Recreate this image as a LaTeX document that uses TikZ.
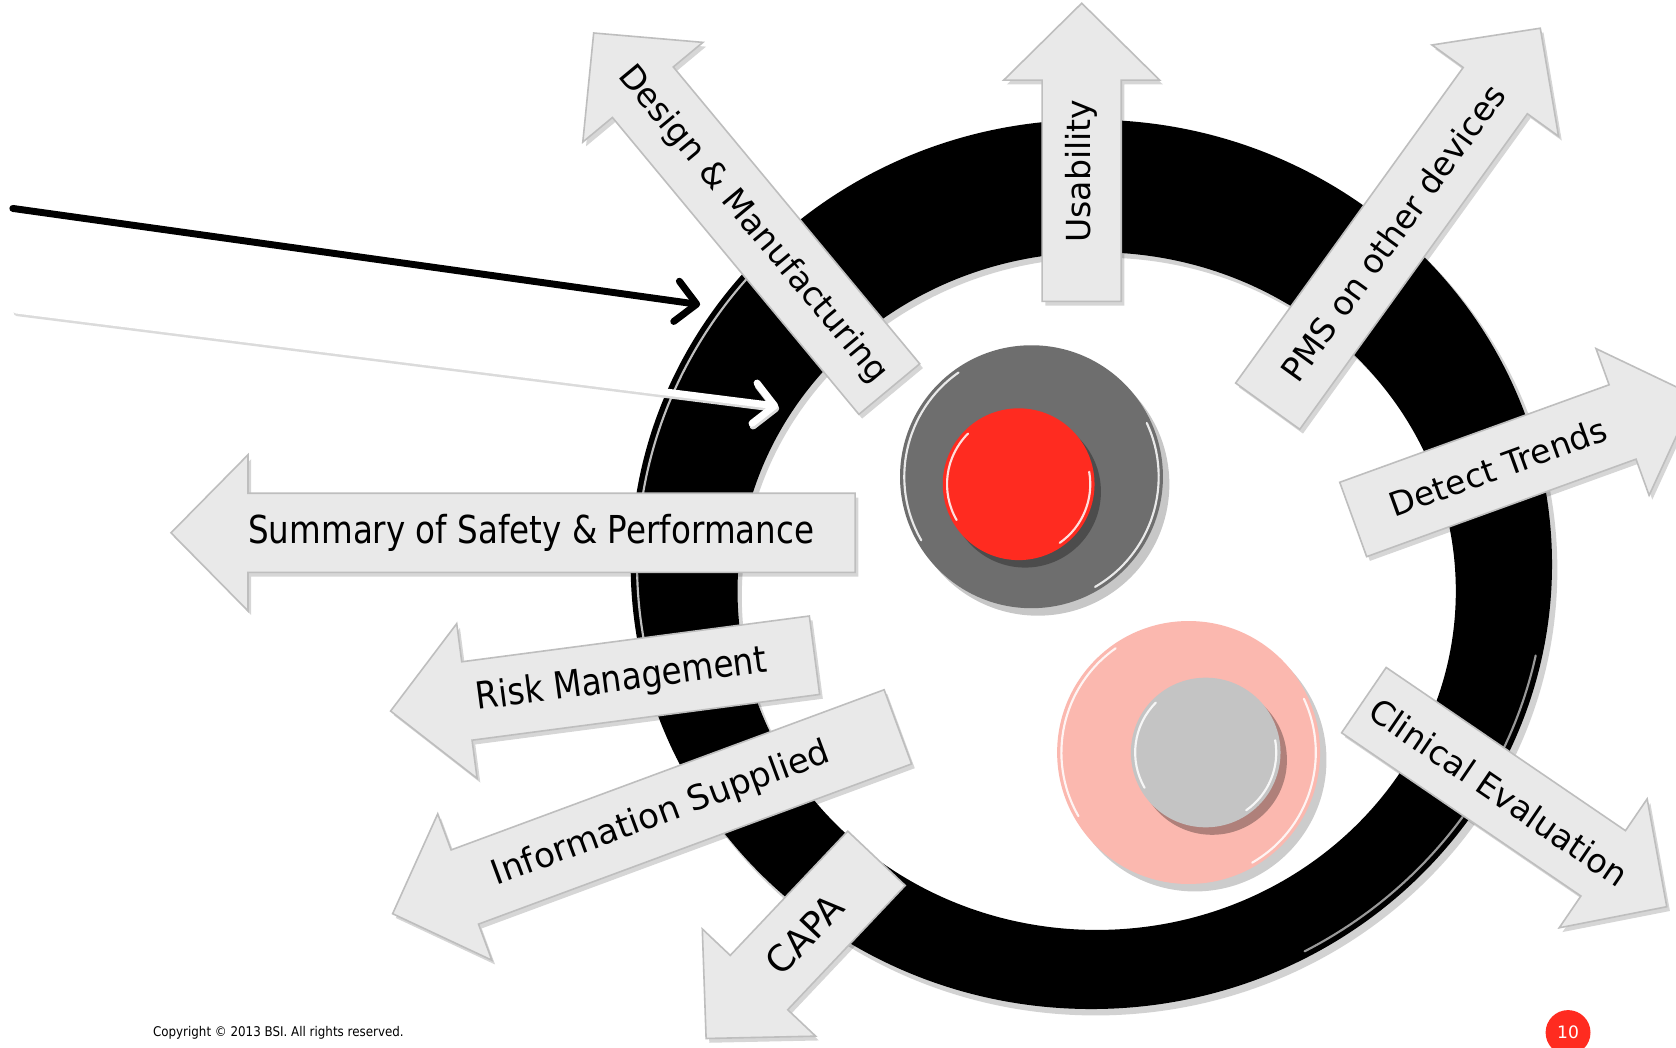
\documentclass[tikz,border=0pt]{standalone}
\usepackage{fontspec}
\setmainfont{DejaVu Sans}
\usetikzlibrary{arrows.meta}
\definecolor{arrfill}{RGB}{233,233,233}
\definecolor{arredge}{RGB}{190,190,190}
\definecolor{discgray}{RGB}{110,110,110}
\definecolor{discred}{RGB}{255,43,32}
\definecolor{discpink}{RGB}{251,184,175}
\definecolor{disclight}{RGB}{196,196,196}
\tikzset{
  arrowbox/.style={fill=arrfill, draw=arredge, line width=1.5pt, line join=miter},
  arrowshadow/.style={fill=black, opacity=0.16},
  arrowlabel/.style={transform shape, inner sep=0pt, text=black},
  gloss/.style={white, line width=2.5pt, opacity=0.85, line cap=round},
  pointer/.style={line width=6.5pt, line cap=round,
    -{Straight Barb[length=19pt, width=38pt, line cap=round, line join=round]}},
}
\newcommand{\arrpoly}[1]{(0,-37) -- (#1,-37) -- (#1,-73) -- ({#1+72},0) -- (#1,73) -- (#1,37) -- (0,37) -- cycle}
% #1 name, #2 x, #3 y, #4 angle, #5 body length, #6 label position, #7 label rotation, #8 label
\newcommand{\blockarr}[8]{%
  \begin{scope}[shift={({#2+3},{#3+4})}, rotate=#4]
    \fill[arrowshadow] \arrpoly{#5};
  \end{scope}
  \begin{scope}[shift={(#2,#3)}, rotate=#4]
    \path[arrowbox] \arrpoly{#5};
    \node[arrowlabel, rotate=#7] (#1) at (#6,0) {#8};
  \end{scope}}
\begin{document}
\begin{tikzpicture}[x=1pt, y=-1pt]
\clip (0,0) rectangle (1568,980);
\fill[white] (0,0) rectangle (1568,980);

% black ring
\fill[black!35, opacity=0.5, even odd rule] (1025,533) ellipse [x radius=432, y radius=417] (1030,558) ellipse [x radius=336, y radius=317];
\fill[black, even odd rule] (1021,528) ellipse [x radius=431, y radius=416] (1026,553) ellipse [x radius=336, y radius=317];
\draw[gloss, line width=2pt, opacity=0.75] (1021,528) ++(165:425 and 410) arc[start angle=165, end angle=228, x radius=425, y radius=410];
\draw[gloss, line width=2pt, opacity=0.6] (1021,528) ++(12:425 and 410) arc[start angle=12, end angle=62, x radius=425, y radius=410];

% gray / red disc
\fill[black, opacity=0.22] (971,453) circle [radius=123];
\fill[discgray] (965,446) circle [radius=123];
\draw[gloss, line width=2pt] (965,446) ++(150:119) arc[start angle=150, end angle=235, radius=119];
\draw[gloss, line width=2pt] (965,446) ++(-25:119) arc[start angle=-25, end angle=60, radius=119];
\fill[black, opacity=0.3] (959,460) circle [radius=71];
\fill[discred] (953,453) circle [radius=71];
\draw[gloss, line width=2pt] (953,453) ++(150:67) arc[start angle=150, end angle=225, radius=67];
\draw[gloss, line width=2pt] (953,453) ++(-10:67) arc[start angle=-10, end angle=55, radius=67];

% pink / light gray disc
\fill[black, opacity=0.2] (1118,711) circle [radius=123];
\fill[discpink] (1112,704) circle [radius=123];
\draw[gloss, line width=2pt] (1112,704) ++(150:119) arc[start angle=150, end angle=235, radius=119];
\draw[gloss, line width=2pt] (1112,704) ++(-25:119) arc[start angle=-25, end angle=60, radius=119];
\fill[black, opacity=0.3] (1134,711) circle [radius=70];
\fill[disclight] (1128,704) circle [radius=70];
\draw[gloss, line width=2pt] (1128,704) ++(150:66) arc[start angle=150, end angle=225, radius=66];
\draw[gloss, line width=2pt] (1128,704) ++(-10:66) arc[start angle=-10, end angle=55, radius=66];

% pointer lines at left
\coordinate (blkS) at (12,195);
\coordinate (blkE) at (655,285);
\coordinate (whtS) at (15,290);
\coordinate (whtE) at (728,380);
\draw[pointer, black] (blkS) -- (blkE);
\draw[pointer, black!14, transform canvas={shift={(1pt,-2.5pt)}}] (whtS) -- (whtE);
\draw[pointer, white] (whtS) -- (whtE);

% block arrows
\blockarr{dm}{832}{364}{129.7}{361}{200}{180}{\fontsize{31}{31}\selectfont Design \& Manufacturing}
\blockarr{us}{1012}{282}{90}{207}{122}{0}{\fontsize{31}{31}\selectfont Usability}
\blockarr{pms}{1186}{380}{54.2}{364}{200}{0}{\fontsize{31}{31}\selectfont PMS on other devices}
\blockarr{dt}{1266}{486}{19.9}{268}{144}{0}{\fontsize{31}{31}\selectfont Detect Trends}
\blockarr{ce}{1276}{655}{-34.3}{271}{153}{0}{\fontsize{31}{31}\selectfont Clinical Evaluation}
\blockarr{ss}{800}{498.5}{180}{568}{303}{180}{\fontsize{36}{36}\selectfont\scalebox{0.846}[1]{Summary of Safety \& Performance}}
\blockarr{rm}{762}{613}{187.5}{328}{182}{180}{\fontsize{35}{35}\selectfont\scalebox{0.872}[1]{Risk Management}}
\blockarr{is}{840}{680}{200.3}{432}{236}{180}{\fontsize{32}{32}\selectfont Information Supplied}
\blockarr{capa}{820}{803}{226.6}{160}{98}{180}{\fontsize{34}{34}\selectfont CAPA}

% footer
\node[anchor=west, inner sep=0pt, font=\fontsize{12.5}{13}\selectfont] (copy) at (143,966) {\scalebox{0.89}[1]{Copyright © 2013 BSI. All rights reserved.}};
\node[circle, fill=discred, minimum size=42pt, inner sep=0pt, text=white, font=\fontsize{16}{16}\selectfont] (pnum) at (1467,966) {10};
\end{tikzpicture}
\end{document}
